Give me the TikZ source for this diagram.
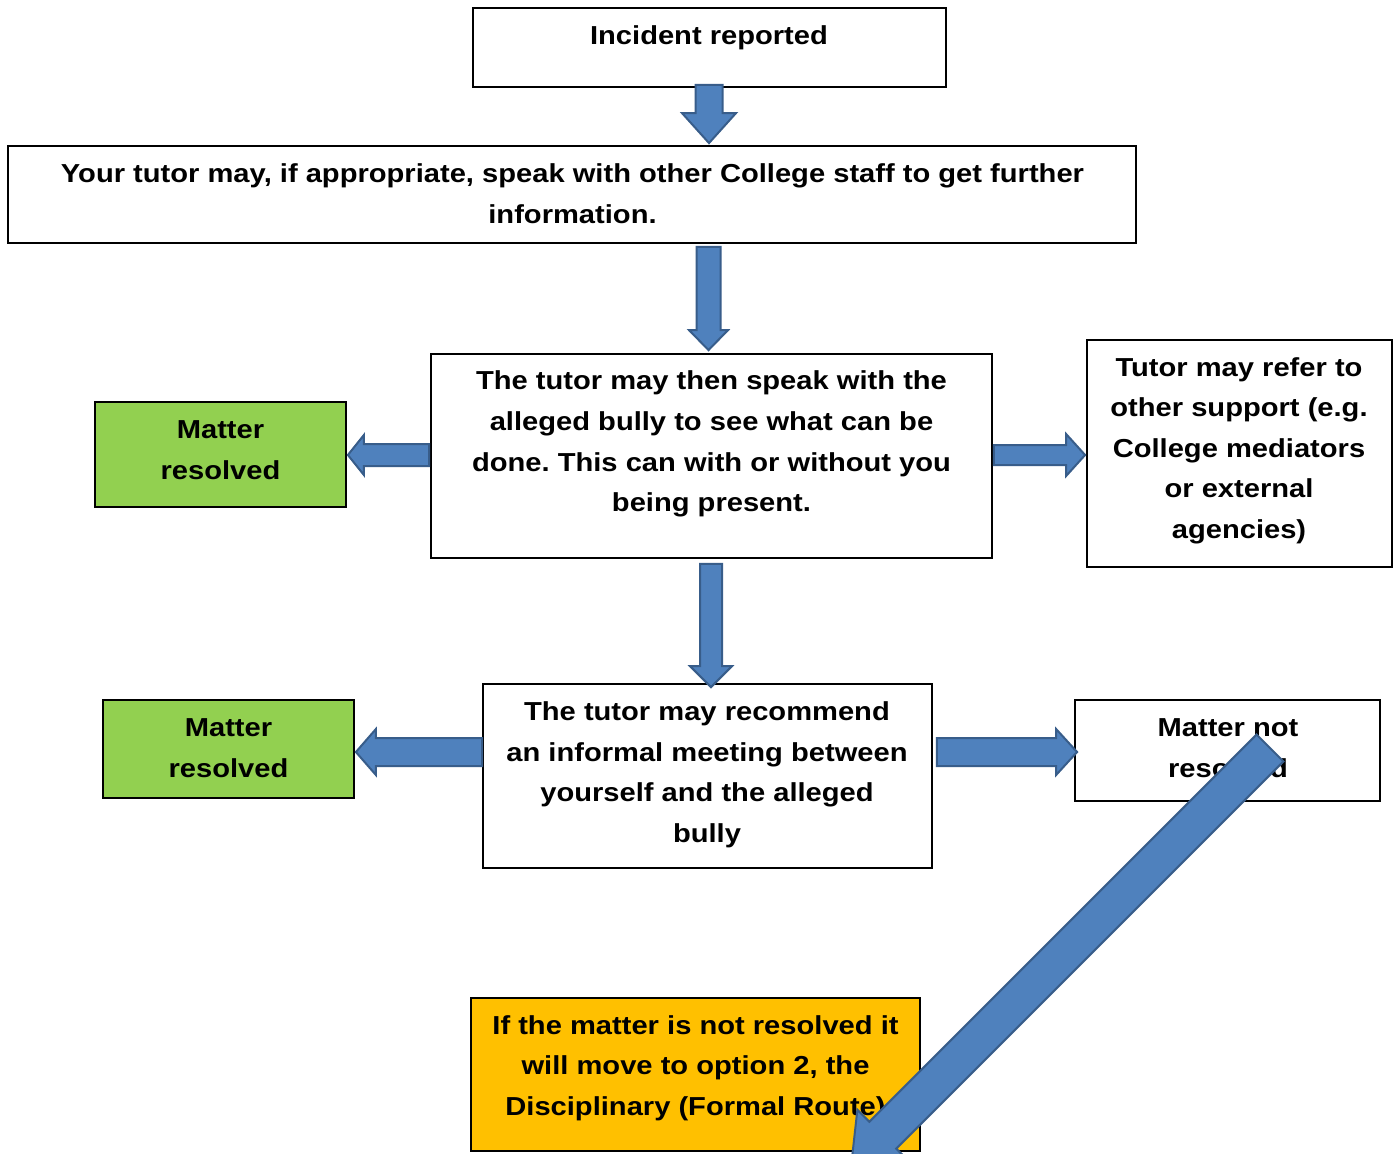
\documentclass[tikz,border=0pt]{standalone}
\usepackage{fontspec}
\setmainfont{Liberation Sans}[FakeStretch=1.12]
\usetikzlibrary{calc}
\definecolor{ablue}{HTML}{4F81BD}
\definecolor{ablueD}{HTML}{385D8A}
\definecolor{gbox}{HTML}{92D050}
\definecolor{obox}{HTML}{FFC000}
\frenchspacing
\tikzset{
  box/.style={draw=black, line width=1.8pt, inner sep=0pt},
  txt/.style={align=center, inner sep=0pt, font=\fontsize{26}{40.6}\selectfont\bfseries\frenchspacing},
  barrow/.style={fill=ablue, draw=ablueD, line width=2pt, line join=miter}
}
% tail, tip, shaft half width, head half width, head length (numbers, in pt)
\newcommand\blockarrow[5]{%
  \path (#1) coordinate (bs) (#2) coordinate (be);
  \path ($(be)!#5pt!(bs)$) coordinate (bh);
  \draw[barrow] ($(bs)!#3pt!90:(be)$) -- ($(bh)!#3pt!-90:(bs)$) -- ($(bh)!#4pt!-90:(bs)$) -- (be)
     -- ($(bh)!#4pt!90:(bs)$) -- ($(bh)!#3pt!90:(bs)$) -- ($(bs)!#3pt!-90:(be)$) -- cycle;
}
\begin{document}
\begin{tikzpicture}[x=1pt, y=-1pt]
\useasboundingbox (0,0) rectangle (1396,1153);
\fill[white] (0,0) rectangle (1396,1153);
% boxes
\node[box, minimum width=473, minimum height=79] (b1) at (709.5,47.5) {};
\node[box, minimum width=1128, minimum height=97] (b2) at (572,194.5) {};
\node[box, minimum width=561, minimum height=204] (b3) at (711.5,456) {};
\node[box, minimum width=305, minimum height=227] (b4) at (1239.5,453.5) {};
\node[box, fill=gbox, minimum width=251, minimum height=105] (g1) at (220.5,454.5) {};
\node[box, fill=gbox, minimum width=251, minimum height=98] (g2) at (228.5,749) {};
\node[box, minimum width=449, minimum height=184] (b5) at (707.5,776) {};
\node[box, minimum width=305, minimum height=101] (b6) at (1227.5,750.5) {};
\node[box, fill=obox, minimum width=449, minimum height=153] (b7) at (695.5,1074.5) {};
% texts
\node[txt] (t1) at (709,36.2) {\strut Incident reported};
\node[txt] (t2) at (572.5,194.7) {\strut Your tutor may, if appropriate, speak with other College staff to get further\\\strut information.};
\node[txt] (t3) at (711.5,442.7) {\strut The tutor may then speak with the\\\strut alleged bully to see what can be\\\strut done. This can with or without you\\\strut being present.};
\node[txt] (t4) at (1239,449.2) {\strut Tutor may refer to\\\strut other support (e.g.\\\strut College mediators\\\strut or external\\\strut agencies)};
\node[txt] (t5) at (220.5,450.7) {\strut Matter\\\strut resolved};
\node[txt] (t6) at (228.5,748.7) {\strut Matter\\\strut resolved};
\node[txt] (t7) at (707,773.2) {\strut The tutor may recommend\\\strut an informal meeting between\\\strut yourself and the alleged\\\strut bully};
\node[txt] (t8) at (1228,748.7) {\strut Matter not\\\strut resolved};
\node[txt] (t9) at (695.5,1066.7) {\strut If the matter is not resolved it\\\strut will move to option 2, the\\\strut Disciplinary (Formal Route)};
% arrows
\coordinate (a1s) at ($(b1.south)+(-0.5,-3)$);
\coordinate (a1e) at ($(b2.north -| a1s)+(0,-2)$);
\blockarrow{a1s}{a1e}{13.5}{27}{30}
\coordinate (a2e) at ($(b3.north)+(-3,-3)$);
\coordinate (a2s) at ($(b2.south -| a2e)+(0,3)$);
\blockarrow{a2s}{a2e}{12}{19.5}{20}
\coordinate (a3s) at ($(b3.south)+(-0.5,5)$);
\coordinate (a3e) at ($(b5.north -| a3s)+(0,4)$);
\blockarrow{a3s}{a3e}{11}{21}{21}
\coordinate (a4s) at ($(b3.west)+(-1,-1)$);
\coordinate (a4e) at ($(g1.east |- a4s)+(1,0)$);
\blockarrow{a4s}{a4e}{11}{20}{16}
\coordinate (a5s) at ($(b3.east)+(1,-1)$);
\coordinate (a5e) at ($(b4.west |- a5s)+(-1,0)$);
\blockarrow{a5s}{a5e}{10}{21}{19}
\coordinate (a6s) at ($(b5.west)+(0,-24)$);
\coordinate (a6e) at ($(g2.east |- a6s)+(1,0)$);
\blockarrow{a6s}{a6e}{14}{23}{20}
\coordinate (a7s) at ($(b5.east)+(4,-24)$);
\coordinate (a7e) at ($(b6.west |- a7s)+(3,0)$);
\blockarrow{a7s}{a7e}{14}{23}{21}
\coordinate (a8s) at ($(b6.center)+(42.5,-2.5)$);
\coordinate (a8e) at (851,1167);
\blockarrow{a8s}{a8e}{19}{36}{45}
\end{tikzpicture}
\end{document}
